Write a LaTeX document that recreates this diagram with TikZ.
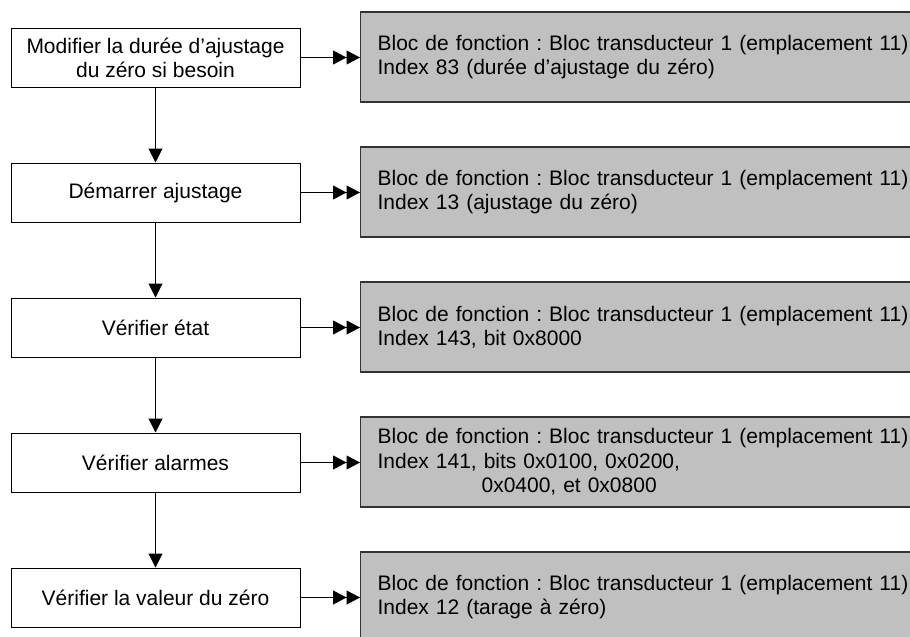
\documentclass[tikz,border=0pt]{standalone}
\usepackage{fontspec}
\setmainfont{Liberation Sans}
\usetikzlibrary{arrows.meta}
\definecolor{infofill}{HTML}{C0C0C0}
\frenchspacing
\begin{document}
\begin{tikzpicture}[x=1pt,y=-1pt,
  stepbox/.style={draw=black,line width=1pt,fill=white,minimum width=289pt,
    minimum height=59pt,inner sep=0pt,align=center,
    font=\fontsize{21}{24}\selectfont},
  infobox/.style={draw=black!80,line width=1.2pt,fill=infofill,anchor=west,
    minimum height=90pt,inner xsep=17pt,inner ysep=0pt,text width=566pt,
    align=left,font=\fontsize{21}{24.5}\selectfont},
  flow/.style={line width=1pt,-{Triangle[length=14pt,width=14pt]}},
  link/.style={line width=1pt,
    -{Triangle[length=13.5pt,width=14pt]Triangle[length=13.5pt,width=14pt]}}]
\useasboundingbox (0,0) rectangle (910,637);
\clip (0,0) rectangle (910,637);

% steps of the procedure
\node[stepbox] (s1) at (155.5,57.5) {Modifier la durée d’ajustage\\du zéro si besoin};
\node[stepbox] (s2) at (155.5,192.5) {Démarrer ajustage};
\node[stepbox] (s3) at (155.5,327.5) {Vérifier état};
\node[stepbox] (s4) at (155.5,462.5) {Vérifier alarmes};
\node[stepbox] (s5) at (155.5,597.5) {Vérifier la valeur du zéro};

% parameter references
\node[infobox] (i1) at (360,57) {Bloc de fonction : Bloc transducteur 1 (emplacement 11)\\Index 83 (durée d’ajustage du zéro)};
\node[infobox] (i2) at (360,192) {Bloc de fonction : Bloc transducteur 1 (emplacement 11)\\Index 13 (ajustage du zéro)};
\node[infobox] (i3) at (360,327) {Bloc de fonction : Bloc transducteur 1 (emplacement 11)\\Index 143, bit 0x8000};
\node[infobox] (i4) at (360,462) {Bloc de fonction : Bloc transducteur 1 (emplacement 11)\\Index 141, bits 0x0100, 0x0200,\\\hspace*{104pt}0x0400, et 0x0800};
\node[infobox] (i5) at (360,597) {Bloc de fonction : Bloc transducteur 1 (emplacement 11)\\Index 12 (tarage à zéro)};

% sequence
\draw[flow] (s1) -- (s2);
\draw[flow] (s2) -- (s3);
\draw[flow] (s3) -- (s4);
\draw[flow] (s4) -- (s5);

% links to parameters
\foreach \k in {1,...,5}
  \draw[link] (s\k.east) -- (i\k.west |- s\k.east);
\end{tikzpicture}
\end{document}
